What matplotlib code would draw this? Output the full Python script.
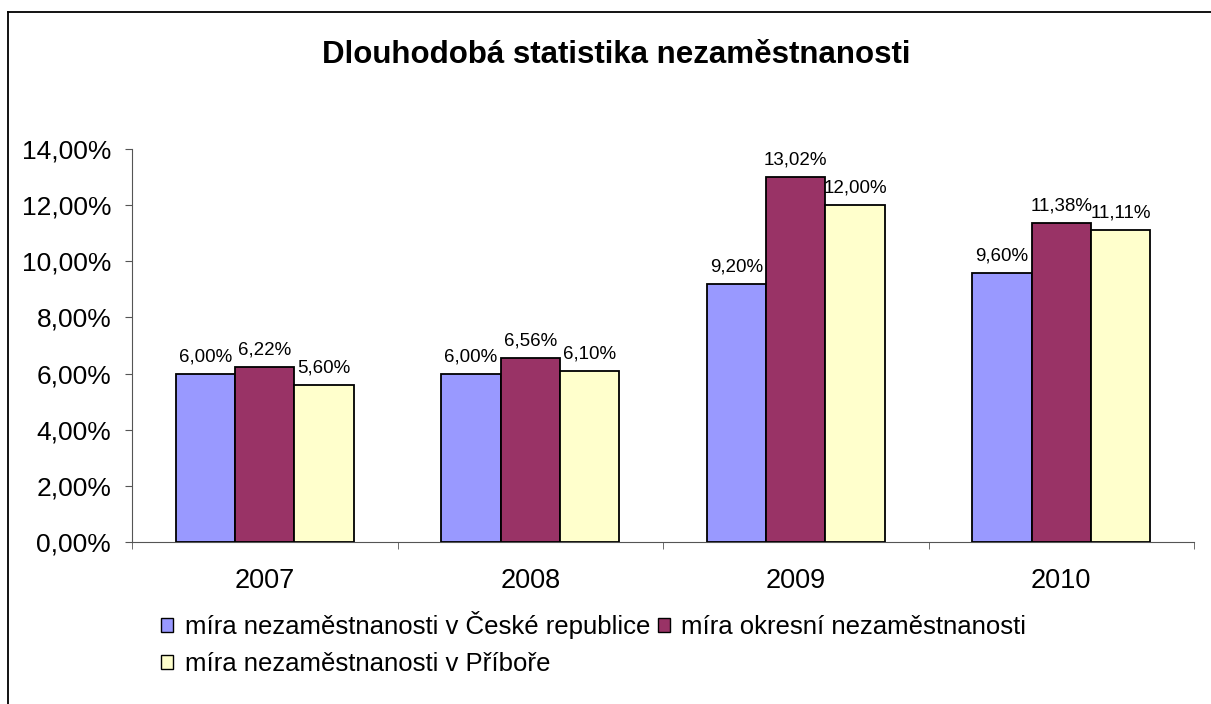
import matplotlib.pyplot as plt
import numpy as np
from matplotlib.patches import Patch
from matplotlib.lines import Line2D

plt.rcParams['font.family'] = ['Liberation Sans', 'DejaVu Sans']

years = ["2007", "2008", "2009", "2010"]
cr = [6.00, 6.00, 9.20, 9.60]
okres = [6.22, 6.56, 13.02, 11.38]
pribor = [5.60, 6.10, 12.00, 11.11]
series_names = ["míra nezaměstnanosti v České republice",
                "míra okresní nezaměstnanosti",
                "míra nezaměstnanosti v Příboře"]
colors = ["#9999FF", "#993366", "#FFFFCC"]

W, H = 1211, 704
fig = plt.figure(figsize=(W / 100, H / 100), dpi=100)
ax = fig.add_axes([132/W, 1-542/H, (1194-132)/W, (542-149)/H])

x = np.arange(len(years))
w = 0.223
for i, (vals, c) in enumerate(zip([cr, okres, pribor], colors)):
    pos = x + (i - 1) * w
    ax.bar(pos, vals, w, color=c, edgecolor="black", linewidth=1.3, zorder=3)
    for px, v in zip(pos, vals):
        ax.text(px, v + 0.3, f"{v:.2f}%".replace(".", ","), ha="center",
                va="bottom", fontsize=13.5, zorder=4)

ax.set_xlim(-0.5, 3.5)
ax.set_ylim(0, 14)
yt = np.arange(0, 15, 2)
ax.set_yticks(yt)
ax.set_yticklabels([f"{t:.2f}%".replace(".", ",") for t in yt], fontsize=19)
ax.set_xticks(x)
ax.set_xticklabels(years, fontsize=19.5)
ax.set_xticks(np.arange(-0.5, 4, 1), minor=True)
ax.tick_params(axis="x", which="major", length=0, pad=19)
ax.tick_params(axis="x", which="minor", length=5, direction="out", color="#555555")
ax.tick_params(axis="y", length=5, direction="out", color="#555555", pad=10)
for s in ["top", "right"]:
    ax.spines[s].set_visible(False)
ax.spines["left"].set_color("#555555")
ax.spines["bottom"].set_color("#555555")

fig.text(616/W, 1-55/H, "Dlouhodobá statistika nezaměstnanosti", ha="center",
         va="center", fontsize=22.5, fontweight="bold")

handles = [Patch(facecolor=c, edgecolor="black", label=n) for c, n in zip(colors, series_names)]
order = [0, 2, 1]
fig.legend([handles[i] for i in order], [series_names[i] for i in order], ncol=2,
           loc="upper left", bbox_to_anchor=(161/W, 1-611/H), frameon=False,
           fontsize=18.5, handlelength=0.47, handleheight=0.47, handletextpad=0.45,
           columnspacing=0.3, labelspacing=0.5, borderpad=0, borderaxespad=0)

# frame: only left and top edges are visible in the picture
fig.add_artist(Line2D([8/W, 8/W], [0, 1-12/H], transform=fig.transFigure,
                      color="black", linewidth=1.3))
fig.add_artist(Line2D([8/W, 1], [1-12/H, 1-12/H], transform=fig.transFigure,
                      color="black", linewidth=1.3))

fig.savefig("out.png", dpi=100)
